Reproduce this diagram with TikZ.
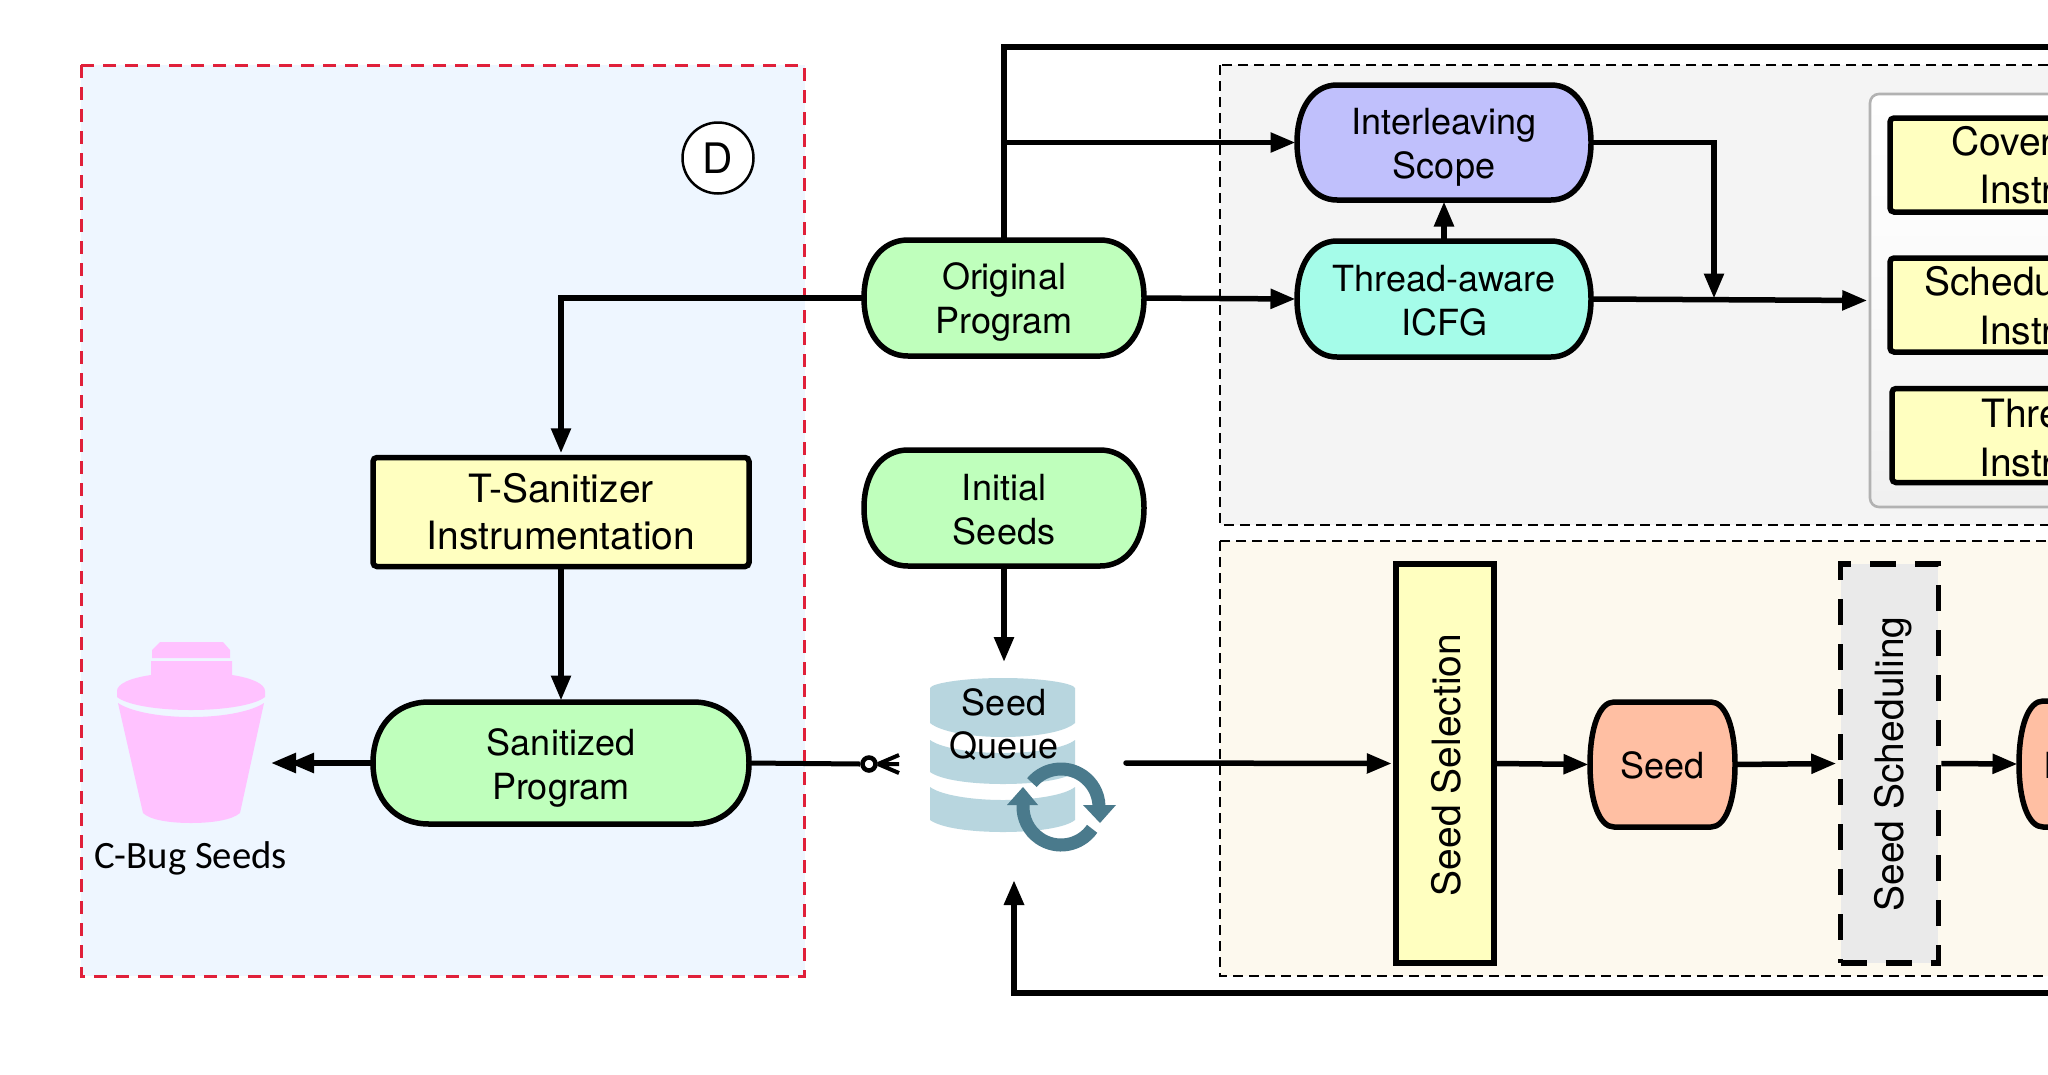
\documentclass[tikz,border=0pt]{standalone}
\usepackage{fontspec}
\setmainfont{TeX Gyre Heros}
\newfontfamily\calfont{Carlito}
\usetikzlibrary{arrows.meta,calc}
\definecolor{bluebg}{HTML}{EEF6FF}
\definecolor{redd}{HTML}{E0203A}
\definecolor{greybg}{HTML}{F4F4F4}
\definecolor{creambg}{HTML}{FDF9EE}
\definecolor{greenf}{HTML}{BFFFBC}
\definecolor{violetf}{HTML}{C0C0FC}
\definecolor{aquaf}{HTML}{A5FCE9}
\definecolor{yellowf}{HTML}{FFFFC0}
\definecolor{salmonf}{HTML}{FFBFA3}
\definecolor{pinkf}{HTML}{FFC2FF}
\definecolor{diskf}{HTML}{B8D6DF}
\definecolor{iconf}{HTML}{4A7A8C}
\definecolor{schedf}{HTML}{EAEAEA}
\tikzset{
  anchorbox/.style={rectangle,inner sep=0pt,outer sep=0pt,align=center},
  termedge/.style={draw=black,line width=5.5pt,line join=round},
  bigtext/.style={font=\fontsize{36}{44.5}\selectfont},
  largetext/.style={font=\fontsize{39}{47}\selectfont},
  instrbox/.style={rectangle,draw=black,fill=yellowf,line width=5.5pt,rounded corners=4pt,inner sep=0pt},
  conn/.style={line width=5.5pt,-{Triangle[length=25pt,width=19pt]},shorten >=1.5pt},
  cliptext/.style={font=\fontsize{39}{47}\selectfont,anchor=base west,inner sep=0pt},
}
\newcommand{\termnode}[9]{%
  \pgfmathsetmacro{\ymid}{(#3+#5)/2}%
  \pgfmathsetmacro{\xmid}{(#2+#4)/2}%
  \pgfmathsetmacro{\hh}{#5-#3}%
  \pgfmathsetmacro{\ww}{#4-#2}%
  \path[termedge,fill=#7]
    ({#2+#6},#3) -- ({#4-#6},#3)
    .. controls ({#4-0.4*#6},#3) and (#4,{#3+0.2*\hh}) .. (#4,\ymid)
    .. controls (#4,{#5-0.2*\hh}) and ({#4-0.4*#6},#5) .. ({#4-#6},#5)
    -- ({#2+#6},#5)
    .. controls ({#2+0.4*#6},#5) and (#2,{#5-0.2*\hh}) .. (#2,\ymid)
    .. controls (#2,{#3+0.2*\hh}) and ({#2+0.4*#6},#3) .. ({#2+#6},#3) -- cycle;
  \node[anchorbox,minimum width=\ww pt,minimum height=\hh pt] (#1) at (\xmid,\ymid) {};%
  \node[anchorbox,bigtext] (#1txt) at (\xmid,{\ymid+#8}) {#9};%
}
\begin{document}
\begin{tikzpicture}[x=1pt,y=-1pt]
\useasboundingbox (0,0) rectangle (2048,1074);
\clip (0,0) rectangle (2048,1074);
\fill[white] (0,0) rectangle (2048,1074);
% regions
\path[fill=bluebg,draw=redd,line width=3pt,dash pattern=on 13pt off 9pt] (81,65) rectangle (804.5,976);
\path[fill=greybg,draw=black,line width=2.5pt,dash pattern=on 10pt off 6pt] (1220,65) rectangle (2070,525);
\path[fill=creambg,draw=black,line width=2.5pt,dash pattern=on 10pt off 6pt] (1220,541) rectangle (2070,976);
% panel
\node[rectangle,rounded corners=9pt,draw=black!30,line width=2.6pt,top color=white,bottom color=black!6,middle color=white!98!black,inner sep=0pt,minimum width=210pt,minimum height=413pt] (panel) at (1975,300.5) {};
\node[instrbox,minimum width=189pt,minimum height=94pt] (cover) at (1984.5,165) {};
\node[instrbox,minimum width=189pt,minimum height=94pt] (sched) at (1984.5,305) {};
\node[instrbox,minimum width=189pt,minimum height=94pt] (threadi) at (1986.5,435.5) {};
\node[cliptext] (t1) at (1951,155) {Cover};
\node[cliptext] (t2) at (1979,203) {Instr};
\node[cliptext] (t3) at (1924,295) {Schedu};
\node[cliptext] (t4) at (1979,344) {Instr};
\node[cliptext] (t5) at (1981,427) {Thre};
\node[cliptext] (t6) at (1979,476) {Instr};
% terminators
\termnode{orig}{864}{240}{1144}{356}{44}{greenf}{4}{Original\\Program}
\termnode{init}{864}{450}{1144}{566}{44}{greenf}{1.5}{Initial\\Seeds}
\termnode{inter}{1297}{85}{1591}{200}{40}{violetf}{5}{Interleaving\\Scope}
\termnode{thread}{1297}{241}{1591}{357}{40}{aquaf}{1.5}{Thread-aware\\ICFG}
\termnode{san}{373}{702}{749}{824}{56}{greenf}{5}{Sanitized\\Program}
\termnode{seed}{1590}{702}{1735}{827}{24}{salmonf}{1}{Seed}
\termnode{next}{2019}{701}{2180}{827}{24}{salmonf}{0}{}
\node[anchorbox,bigtext,anchor=base west] (nexttxt) at (2043,778) {I};
% rectangles
\node[instrbox,largetext,align=center,minimum width=376pt,minimum height=109pt] (tsan) at (561,512) {T-Sanitizer\\Instrumentation};
\node[rectangle,draw=black,fill=yellowf,line width=5.5pt,inner sep=0pt,minimum width=98pt,minimum height=399pt] (sel) at (1445,763.5) {};
\node[rotate=90,largetext,inner sep=0pt] (seltxt) at (1446,765) {Seed Selection};
\path[fill=schedf] (1841,564) rectangle (1938,963);
\node[rectangle,draw=black,line width=5.5pt,dash pattern=on 26pt off 19pt,inner sep=0pt,minimum width=98pt,minimum height=399pt] (schedule) at (1889.5,763.5) {};
\node[rotate=90,largetext,inner sep=0pt] (schedtxt) at (1893,764) {Seed Scheduling};
% D
\node[circle,draw=black,fill=white,line width=2.5pt,minimum size=71pt,inner sep=0pt,font=\fontsize{42}{44}\selectfont] (d) at (718,158) {D};
% bucket
\fill[pinkf] (160,642) -- (223,642) -- (230,650) -- (230,658) -- (152,658) -- (152,650) -- cycle;
\fill[pinkf] (151,661) -- (232,661) -- (232,675) .. controls (252,678) and (265,684) .. (265,691) -- (265,697) .. controls (255,705) and (225,710) .. (191,710) .. controls (157,710) and (127,705) .. (117,697) -- (117,691) .. controls (117,684) and (130,678) .. (151,675) -- cycle;
\fill[pinkf] (118,703) .. controls (130,711) and (157,717) .. (191,717) .. controls (225,717) and (252,711) .. (264,703) -- (240,813) .. controls (232,820) and (212,823) .. (191,823) .. controls (170,823) and (150,820) .. (143,813) -- cycle;
\node[font=\calfont\fontsize{38.7}{40}\selectfont,anchor=base,inner sep=0pt] (bugs) at (190.5,868) {C-Bug Seeds};
% seed queue
\fill[diskf] (930,688) .. controls (932,683) and (965,678) .. (1003,678) .. controls (1041,678) and (1073,683) .. (1075,688) -- (1075,723) .. controls (1065,732) and (1035,737) .. (1003,737) .. controls (971,737) and (941,732) .. (930,723) -- cycle;
\fill[diskf] (930,740) .. controls (941,748) and (971,753) .. (1003,753) .. controls (1035,753) and (1065,748) .. (1075,740) -- (1075,772) .. controls (1065,780) and (1035,784) .. (1003,784) .. controls (971,784) and (941,780) .. (930,772) -- cycle;
\fill[diskf] (930,787) .. controls (941,795) and (971,800) .. (1003,800) .. controls (1035,800) and (1065,795) .. (1075,787) -- (1075,820) .. controls (1065,828) and (1035,832) .. (1003,832) .. controls (971,832) and (941,828) .. (930,820) -- cycle;
\node[anchorbox,font=\fontsize{36}{43}\selectfont] (queue) at (1004,725) {Seed\\Queue};
% refresh icon
\coordinate (ic) at (1061,807);
\draw[iconf,line width=13pt] ($(ic)+(-140:38)$) arc[start angle=-140,end angle=5,radius=38];
\draw[iconf,line width=13pt] ($(ic)+(35:38)$) arc[start angle=35,end angle=183,radius=38];
\fill[iconf] (1083,805) -- (1116,805) -- (1100,823) -- cycle;
\fill[iconf] (1007,805) -- (1038,805) -- (1023,787) -- cycle;
% connectors
\coordinate (topend) at (2060,47);
\draw[line width=6pt] (orig.north) -- (orig.north |- topend) -- (topend);
\draw[conn] (orig.north |- inter.west) -- (inter.west);
\draw[conn] (orig.east) -- (thread.west);
\draw[conn] (thread.north) -- (inter.south);
\coordinate (merge) at (1714,300);
\draw[conn] (inter.east) -| (merge);
\draw[conn] (thread.east) -- (panel.west);
\draw[conn] (orig.west) -| (tsan.north);
\draw[conn] (tsan.south) -- (san.north);
\draw[conn] (init.south) -- (1004,663.5);
\draw[line width=5.5pt,-{Triangle[length=25pt,width=19pt,sep=-7pt]Triangle[length=25pt,width=19pt]}] (san.west) -- (271,763);
\node[circle,draw=black,fill=white,line width=4.5pt,minimum size=13pt,inner sep=0pt] (odot) at (869,764) {};
\draw[line width=5pt] (san.east) -- (odot.west);
\coordinate (fa) at (878,764);
\coordinate (fb) at (899,755);
\coordinate (fc) at (899,764);
\coordinate (fd) at (899,773);
\draw[line width=4pt] (odot.east) -- (fc) (fa) -- (fb) (fa) -- (fd);
\coordinate (qout) at (1126,763);
\draw[conn,line cap=round] (qout) -- (sel.west);
\draw[conn] (sel.east) -- (seed.west);
\draw[conn] (seed.east) -- (schedule.west);
\draw[conn] (schedule.east) -- (next.west);
\coordinate (botend) at (2060,992.5);
\draw[line width=6pt,-{Triangle[length=25pt,width=19pt]}] (botend) -- (1014,992.5) -- (1014,880);
\end{tikzpicture}
\end{document}
